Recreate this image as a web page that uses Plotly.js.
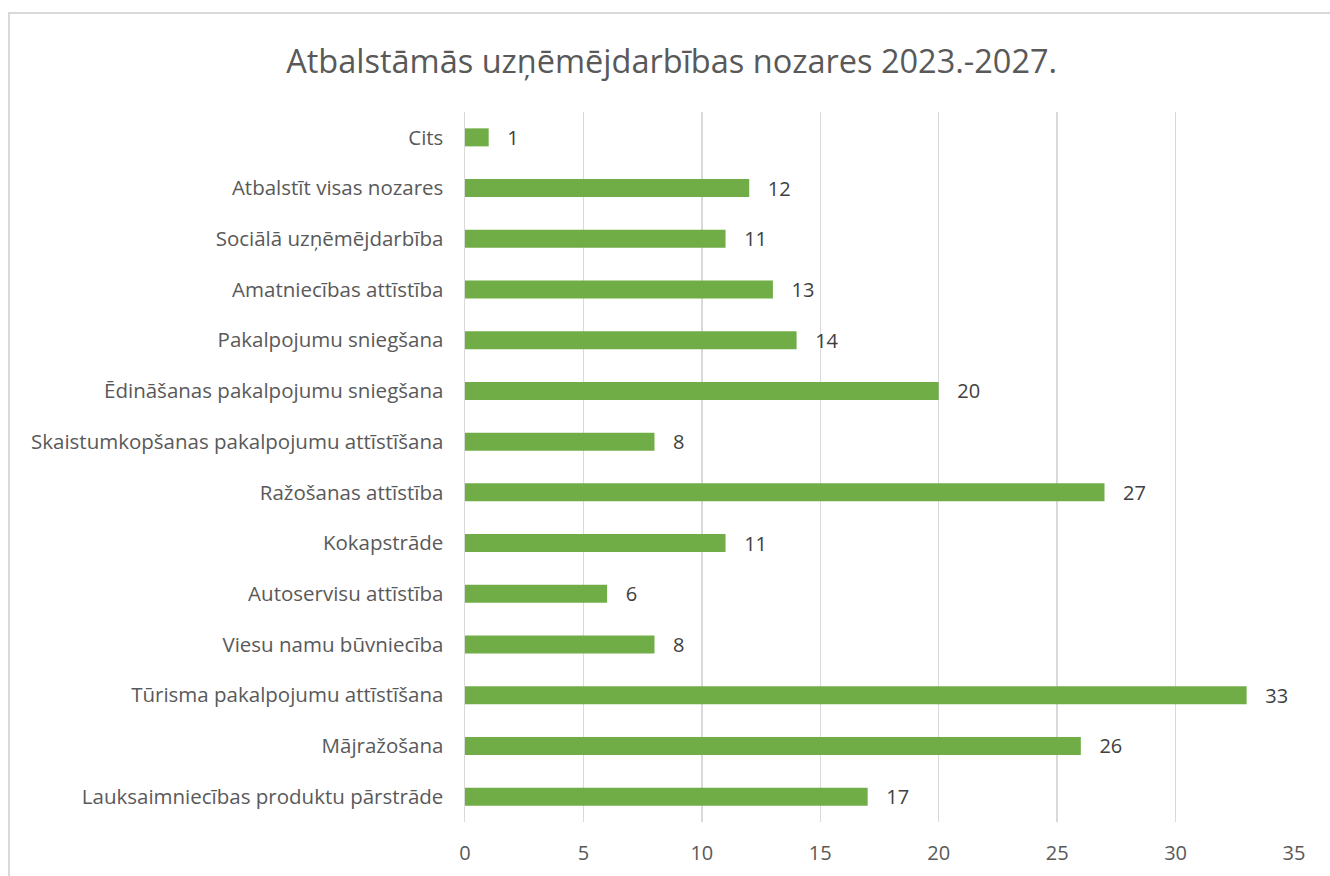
<!DOCTYPE html>
<html>
<head>
<meta charset="utf-8">
<script src="https://cdn.plot.ly/plotly-3.0.1.min.js"></script>
<style>
html,body{margin:0;padding:0;overflow:hidden;background:#fff;}
#chart{width:1330px;height:876px;}
#frame{position:absolute;left:8px;top:12px;width:1400px;height:1000px;border:2px solid #d9d9d9;pointer-events:none;}
</style>
</head>
<body>
<div id="chart"></div>
<div id="frame"></div>
<script>
const categories = [
  "Cits",
  "Atbalstīt visas nozares",
  "Sociālā uzņēmējdarbība",
  "Amatniecības attīstība",
  "Pakalpojumu sniegšana",
  "Ēdināšanas pakalpojumu sniegšana",
  "Skaistumkopšanas pakalpojumu attīstīšana",
  "Ražošanas attīstība",
  "Kokapstrāde",
  "Autoservisu attīstība",
  "Viesu namu būvniecība",
  "Tūrisma pakalpojumu attīstīšana",
  "Mājražošana",
  "Lauksaimniecības produktu pārstrāde"
];
const values = [1, 12, 11, 13, 14, 20, 8, 27, 11, 6, 8, 33, 26, 17];
const xTicks = [0, 5, 10, 15, 20, 25, 30, 35];
const titleText = "Atbalstāmās uzņēmējdarbības nozares 2023.-2027.";

const fontFam = "'Open Sans', sans-serif";

Plotly.newPlot('chart', [{
  type: 'bar',
  orientation: 'h',
  y: categories,
  x: values,
  marker: {color: '#70AD47'},
  text: values.map(v => '   ' + v),
  textposition: 'outside',
  constraintext: 'none',
  cliponaxis: false,
  textfont: {family: fontFam, size: 20, color: '#404040'},
  hoverinfo: 'none'
}], {
  width: 1330,
  height: 876,
  margin: {l: 465, r: 36, t: 112, b: 54},
  paper_bgcolor: '#ffffff',
  plot_bgcolor: '#ffffff',
  bargap: 0.645,
  showlegend: false,
  title: {
    text: titleText,
    font: {family: fontFam, size: 32.5, color: '#595959'},
    x: 0.505, xref: 'container', xanchor: 'center',
    y: 0.93, yref: 'container', yanchor: 'middle'
  },
  xaxis: {
    range: [0, 35],
    tickvals: xTicks,
    ticktext: xTicks.map(String),
    showgrid: true,
    gridcolor: '#d9d9d9',
    gridwidth: 1.5,
    zeroline: false,
    showline: false,
    ticks: 'outside',
    ticklen: 13,
    tickcolor: 'rgba(0,0,0,0)',
    tickfont: {family: fontFam, size: 20, color: '#595959'}
  },
  yaxis: {
    type: 'category',
    autorange: 'reversed',
    showgrid: false,
    zeroline: false,
    showline: true,
    linecolor: '#d9d9d9',
    linewidth: 1.5,
    ticks: 'outside',
    ticklen: 16,
    tickcolor: 'rgba(0,0,0,0)',
    tickfont: {family: fontFam, size: 20.5, color: '#595959'}
  }
}, {displayModeBar: false, staticPlot: true});
</script>
</body>
</html>
